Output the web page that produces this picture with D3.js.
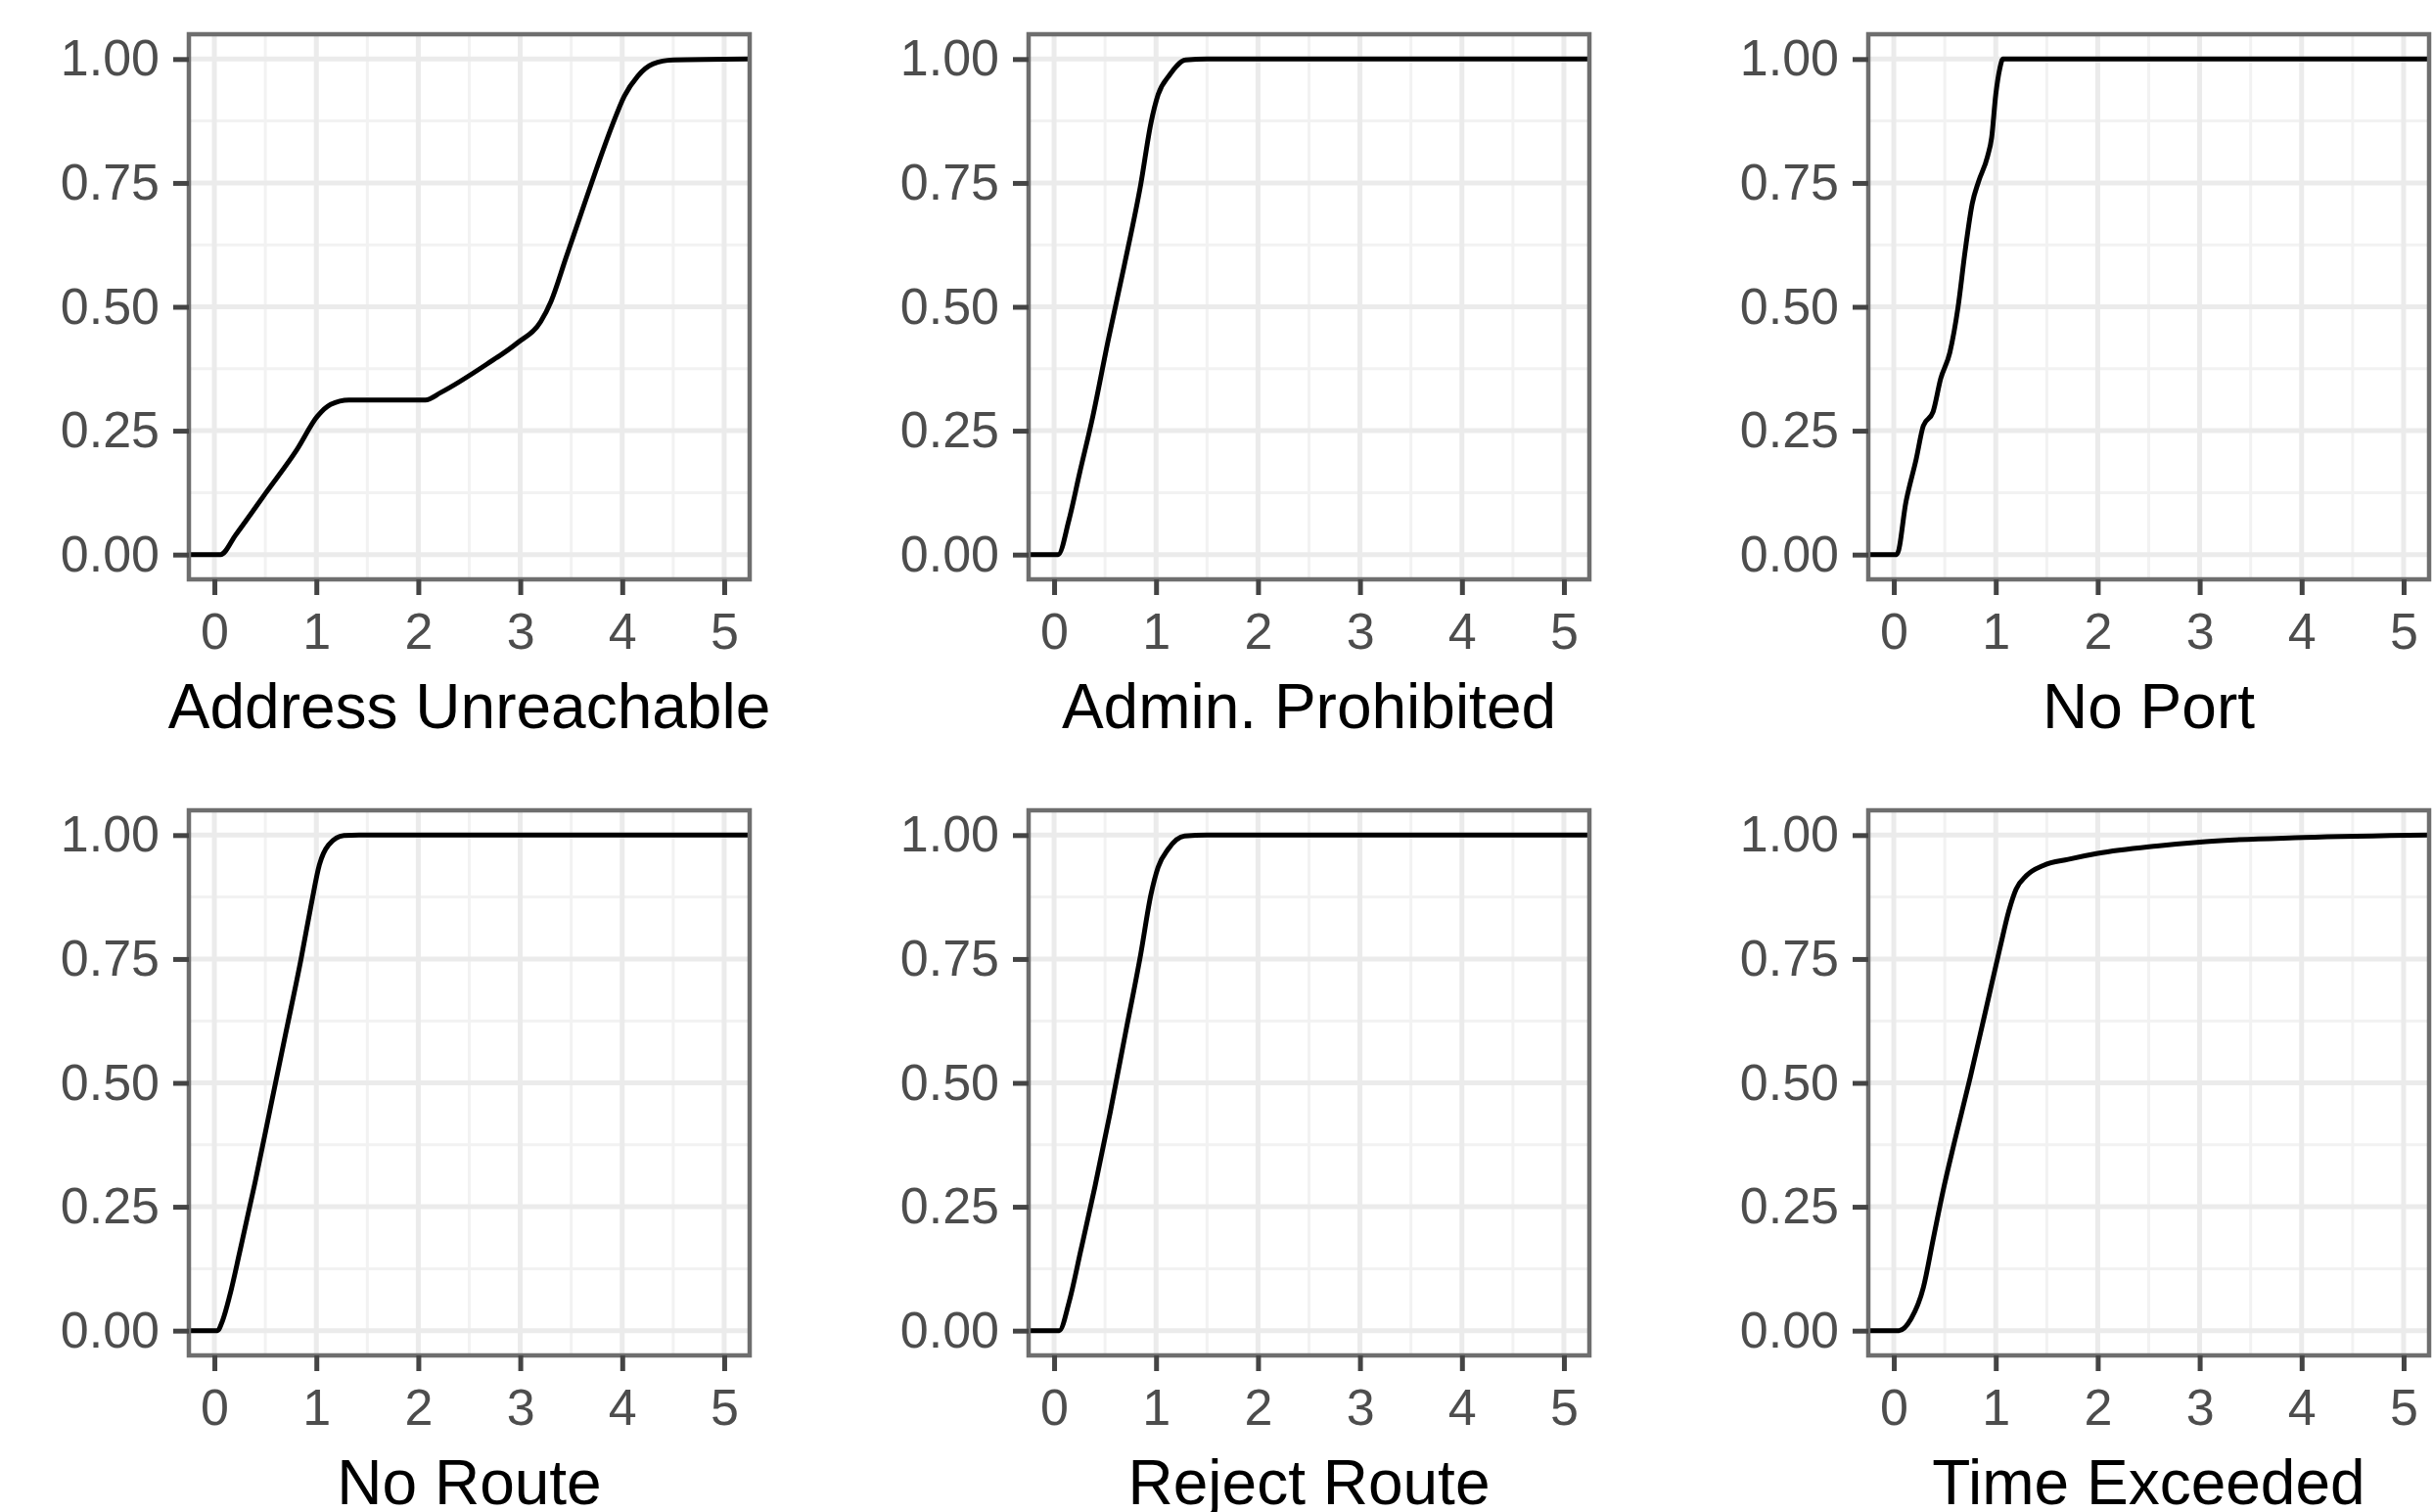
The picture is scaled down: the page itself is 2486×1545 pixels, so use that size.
<!DOCTYPE html>
<html>
<head>
<meta charset="utf-8">
<script src="https://cdn.jsdelivr.net/npm/d3@7"></script>
<style>
  body { margin: 0; background: #fff; }
  svg { display: block; font-family: "Liberation Sans", Arial, sans-serif; }
</style>
</head>
<body>
<div id="chart"></div>
<script>
// facet titles and axis ticks
const panelTitles = ["Address Unreachable", "Admin. Prohibited", "No Port", "No Route", "Reject Route", "Time Exceeded"];
const xTickValues = [0, 1, 2, 3, 4, 5];
const yTickValues = [0, 0.25, 0.5, 0.75, 1];

// curve values (x, cumulative share)
const addrUnreachX = [-0.25, 0.06, 0.21, 0.51, 0.81, 1.01, 1.14, 1.32, 2.07, 2.22, 2.67, 2.97, 3.2, 3.3, 3.45, 3.6, 3.75, 3.9, 4.02, 4.15, 4.3, 4.5, 5.25];
const addrUnreachY = [0, 0, 0.04, 0.126, 0.212, 0.279, 0.303, 0.312, 0.312, 0.327, 0.384, 0.427, 0.47, 0.51, 0.6, 0.69, 0.78, 0.865, 0.925, 0.965, 0.99, 0.998, 1];

const adminProhibX = [-0.25, 0.04, 0.145, 0.25, 0.38, 0.53, 0.69, 0.85, 0.95, 1.02, 1.13, 1.29, 1.5, 5.25];
const adminProhibY = [0, 0, 0.069, 0.164, 0.279, 0.432, 0.585, 0.747, 0.871, 0.928, 0.967, 0.998, 1, 1];

const noPortX = [-0.25, 0.03, 0.12, 0.22, 0.29, 0.385, 0.46, 0.55, 0.63, 0.70, 0.77, 0.83, 0.92, 0.96, 1.0, 1.04, 1.07, 5.25];
const noPortY = [0, 0, 0.107, 0.193, 0.26, 0.288, 0.355, 0.408, 0.499, 0.613, 0.709, 0.752, 0.804, 0.842, 0.928, 0.981, 1, 1];

const noRouteX = [-0.25, 0.03, 0.08, 0.15, 0.25, 0.4, 0.55, 0.7, 0.85, 0.95, 1.03, 1.12, 1.27, 1.42, 5.25];
const noRouteY = [0, 0, 0.02, 0.07, 0.16, 0.3, 0.45, 0.6, 0.75, 0.86, 0.94, 0.98, 0.999, 1, 1];

const rejectRouteX = [-0.25, 0.05, 0.15, 0.26, 0.4, 0.55, 0.7, 0.85, 0.95, 1.02, 1.12, 1.28, 1.5, 5.25];
const rejectRouteY = [0, 0, 0.06, 0.16, 0.29, 0.44, 0.6, 0.76, 0.88, 0.935, 0.972, 0.998, 1, 1];

const timeExceededX = [-0.25, 0.05, 0.17, 0.29, 0.385, 0.48, 0.6, 0.75, 0.89, 1.04, 1.13, 1.2, 1.3, 1.47, 1.71, 2.0, 2.58, 3.06, 4.02, 5.25];
const timeExceededY = [0, 0, 0.024, 0.087, 0.183, 0.279, 0.385, 0.511, 0.636, 0.771, 0.848, 0.891, 0.918, 0.939, 0.951, 0.963, 0.978, 0.987, 0.995, 1];

const seriesX = [addrUnreachX, adminProhibX, noPortX, noRouteX, rejectRouteX, timeExceededX];
const seriesY = [addrUnreachY, adminProhibY, noPortY, noRouteY, rejectRouteY, timeExceededY];

const width = 2486;
const height = 1545;
const panelW = 573;
const panelH = 557;
const colLeft = [193, 1051, 1909];
const rowTop = [35, 828];

const svg = d3.select('#chart').append('svg')
    .attr('width', width)
    .attr('height', height);

const x = d3.scaleLinear().domain([-0.25, 5.25]).range([0, panelW]);
const y = d3.scaleLinear().domain([-0.05, 1.05]).range([panelH, 0]);

const minorX = [0.5, 1.5, 2.5, 3.5, 4.5];
const minorY = [0.125, 0.375, 0.625, 0.875];

const line = d3.line()
    .x(d => x(d[0]))
    .y(d => y(d[1]))
    .curve(d3.curveMonotoneX);

panelTitles.forEach((title, i) => {
    const col = i % 3;
    const row = Math.floor(i / 3);
    const g = svg.append('g')
        .attr('transform', `translate(${colLeft[col]},${rowTop[row]})`);

    g.append('clipPath').attr('id', 'clip' + i)
        .append('rect').attr('width', panelW).attr('height', panelH);

    // minor grid
    g.append('g').selectAll('line').data(minorX).enter().append('line')
        .attr('x1', d => x(d)).attr('x2', d => x(d))
        .attr('y1', 0).attr('y2', panelH)
        .attr('stroke', '#f2f2f2').attr('stroke-width', 3);
    g.append('g').selectAll('line').data(minorY).enter().append('line')
        .attr('x1', 0).attr('x2', panelW)
        .attr('y1', d => y(d)).attr('y2', d => y(d))
        .attr('stroke', '#f2f2f2').attr('stroke-width', 3);

    // major grid
    g.append('g').selectAll('line').data(xTickValues).enter().append('line')
        .attr('x1', d => x(d)).attr('x2', d => x(d))
        .attr('y1', 0).attr('y2', panelH)
        .attr('stroke', '#ebebeb').attr('stroke-width', 5);
    g.append('g').selectAll('line').data(yTickValues).enter().append('line')
        .attr('x1', 0).attr('x2', panelW)
        .attr('y1', d => y(d)).attr('y2', d => y(d))
        .attr('stroke', '#ebebeb').attr('stroke-width', 5);

    // the curve
    const pts = seriesX[i].map((v, k) => [v, seriesY[i][k]]);
    g.append('path')
        .datum(pts)
        .attr('clip-path', `url(#clip${i})`)
        .attr('d', line)
        .attr('fill', 'none')
        .attr('stroke', '#000')
        .attr('stroke-width', 5)
        .attr('stroke-linejoin', 'round');

    // panel border
    g.append('rect')
        .attr('width', panelW).attr('height', panelH)
        .attr('fill', 'none')
        .attr('stroke', '#6e6e6e')
        .attr('stroke-width', 4.5);

    // axes
    const yAxis = g.append('g')
        .call(d3.axisLeft(y).tickValues(yTickValues).tickSize(16).tickPadding(14).tickFormat(d3.format('.2f')));
    const xAxis = g.append('g')
        .attr('transform', `translate(0,${panelH})`)
        .call(d3.axisBottom(x).tickValues(xTickValues).tickSize(16).tickPadding(18).tickFormat(d3.format('d')));

    [xAxis, yAxis].forEach(ax => {
        ax.select('.domain').remove();
        ax.selectAll('.tick line').attr('stroke', '#444').attr('stroke-width', 5);
        ax.selectAll('.tick text')
            .attr('fill', '#4d4d4d')
            .style('font-size', '52px')
            .style('font-family', '"Liberation Sans", Arial, sans-serif');
    });

    // facet title below
    g.append('text')
        .attr('x', panelW / 2)
        .attr('y', panelH + 152)
        .attr('text-anchor', 'middle')
        .attr('fill', '#000')
        .style('font-size', '64px')
        .text(title);
});
</script>
</body>
</html>
